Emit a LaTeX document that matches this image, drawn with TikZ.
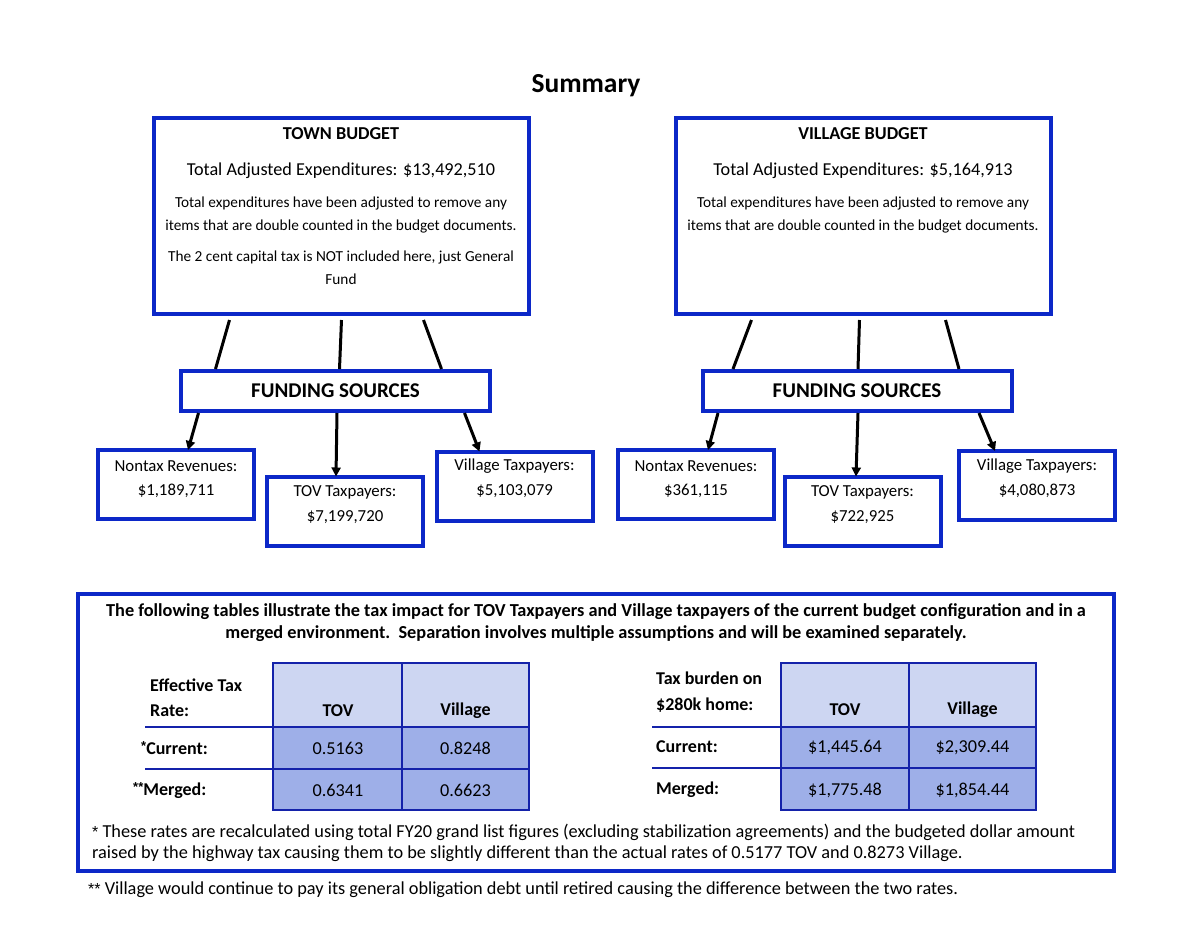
\documentclass[tikz,border=0pt]{standalone}
\usepackage{fontspec}
\setmainfont{Carlito}
\newfontfamily\astfont{Liberation Sans}
\usetikzlibrary{arrows.meta,calc}
\definecolor{boxblue}{RGB}{12,40,200}
\definecolor{gridblue}{RGB}{20,34,170}
\definecolor{hdrfill}{RGB}{205,214,242}
\definecolor{datfill}{RGB}{158,175,232}
\newcommand{\fs}[1]{\fontsize{#1pt}{#1pt}\selectfont}
\newcommand{\supast}[1]{\raisebox{4pt}{\astfont\fs{13}#1}}
\newcommand{\myast}{{\astfont\fs{16}*}}
\tikzset{
  bigbox/.style={draw=boxblue,line width=4pt,minimum width=375pt,minimum height=196pt,inner sep=0pt},
  fundbox/.style={draw=boxblue,line width=4pt,minimum width=309pt,minimum height=40pt,inner sep=0pt,font=\fs{21}\bfseries},
  revbox/.style={draw=boxblue,line width=4pt,minimum width=156pt,minimum height=69pt,inner sep=0pt},
  txt/.style={inner sep=0pt,anchor=center},
  revtxt/.style={txt,font=\fs{16.8}},
  smalltxt/.style={txt,font=\fs{15.3}},
  tlabel/.style={txt,anchor=west,font=\fs{18}\bfseries},
  thead/.style={txt,font=\fs{18}\bfseries},
  tdata/.style={txt,font=\fs{18.2}},
  note/.style={txt,anchor=west,font=\fs{18.3}},
  conn/.style={line width=3pt,black},
  arr/.style={line width=3pt,black,-{Triangle[length=9pt,width=9pt]}},
  grid/.style={draw=gridblue,line width=2pt},
}
\begin{document}
\begin{tikzpicture}[x=1pt,y=-1pt]
\useasboundingbox (0,0) rectangle (1200,927);
\fill[white] (0,0) rectangle (1200,927);

% title
\node[txt,font=\fs{27.5}\bfseries] (title) at (586,86) {Summary};

% ---------- TOWN ----------
\node[bigbox] (townB) at (341.5,216) {};
\node[txt,font=\fs{18.2}\bfseries] (townT) at (341,134) {TOWN BUDGET};
\node[txt,font=\fs{18.2}] (townE) at (341,171) {Total Adjusted Expenditures: \$13,492,510};
\node[smalltxt] (townL1) at (341,203) {Total expenditures have been adjusted to remove any};
\node[smalltxt] (townL2) at (341,226) {items that are double counted in the budget documents.};
\node[smalltxt] (townL3) at (341,257) {The 2 cent capital tax is NOT included here, just General};
\node[smalltxt] (townL4) at (341,279) {Fund};

\node[fundbox] (townF) at (335.5,391) {FUNDING SOURCES};

\draw[conn] ([xshift=-112pt,yshift=-4pt]townB.south) -- ([xshift=-120pt]townF.north);
\draw[conn] ([xshift=0pt,yshift=-4pt]townB.south) -- ([xshift=4pt]townF.north);
\draw[conn] ([xshift=82pt,yshift=-4pt]townB.south) -- ([xshift=106pt]townF.north);

\node[revbox] (townN) at (176,484.5) {};
\node[revtxt] (townN1) at (176,466) {Nontax Revenues:};
\node[revtxt] (townN2) at (176,491) {\$1,189,711};
\node[revbox] (townT2) at (345,511) {};
\node[revtxt] (townT21) at (345,492) {TOV Taxpayers:};
\node[revtxt] (townT22) at (345,517) {\$7,199,720};
\node[revbox] (townV) at (514.5,486) {};
\node[revtxt] (townV1) at (514.5,466) {Village Taxpayers:};
\node[revtxt] (townV2) at (514.5,491) {\$5,103,079};

\draw[arr] ([xshift=-137pt]townF.south) -- ([xshift=12pt,yshift=-2pt]townN.north);
\draw[arr] ([xshift=1.5pt]townF.south) -- ([xshift=-9pt,yshift=-2pt]townT2.north);
\draw[arr] ([xshift=129pt]townF.south) -- ([xshift=-35pt,yshift=-2pt]townV.north);

% ---------- VILLAGE ----------
\node[bigbox] (vilB) at (863.5,216) {};
\node[txt,font=\fs{18.2}\bfseries] (vilT) at (863,134) {VILLAGE BUDGET};
\node[txt,font=\fs{18.2}] (vilE) at (863,171) {Total Adjusted Expenditures: \$5,164,913};
\node[smalltxt] (vilL1) at (863,203) {Total expenditures have been adjusted to remove any};
\node[smalltxt] (vilL2) at (863,226) {items that are double counted in the budget documents.};

\node[fundbox] (vilF) at (857,391) {FUNDING SOURCES};

\draw[conn] ([xshift=-112pt,yshift=-4pt]vilB.south) -- ([xshift=-124pt]vilF.north);
\draw[conn] ([xshift=-4pt,yshift=-4pt]vilB.south) -- ([xshift=1pt]vilF.north);
\draw[conn] ([xshift=82pt,yshift=-4pt]vilB.south) -- ([xshift=102pt]vilF.north);

\node[revbox] (vilN) at (696,484.5) {};
\node[revtxt] (vilN1) at (696,466) {Nontax Revenues:};
\node[revtxt] (vilN2) at (696,491) {\$361,115};
\node[revbox] (vilT2) at (862.5,511) {};
\node[revtxt] (vilT21) at (862.5,492) {TOV Taxpayers:};
\node[revtxt] (vilT22) at (862.5,517) {\$722,925};
\node[revbox] (vilV) at (1037,485.5) {};
\node[revtxt] (vilV1) at (1037,466) {Village Taxpayers:};
\node[revtxt] (vilV2) at (1037,491) {\$4,080,873};

\draw[arr] ([xshift=-139pt]vilF.south) -- ([xshift=12pt,yshift=-2pt]vilN.north);
\draw[arr] ([xshift=1pt]vilF.south) -- ([xshift=-6.5pt,yshift=-2pt]vilT2.north);
\draw[arr] ([xshift=122pt]vilF.south) -- ([xshift=-42pt,yshift=-2pt]vilV.north);

% ---------- BOTTOM PANEL ----------
\node[draw=boxblue,line width=4pt,minimum width=1036pt,minimum height=277pt,inner sep=0pt] (panel) at (596,732.5) {};
\node[txt,font=\fs{18.3}\bfseries] (hd1) at (596,612) {The following tables illustrate the tax impact for TOV Taxpayers and Village taxpayers of the current budget configuration and in a};
\node[txt,font=\fs{18.3}\bfseries] (hd2) at (596,634) {merged environment.\ \ Separation involves multiple assumptions and will be examined separately.};

% left table
\fill[hdrfill] (273,663) rectangle (529,727);
\fill[datfill] (273,727) rectangle (529,810);
\draw[grid] (273,663) rectangle (529,810);
\draw[grid] (402,663) -- (402,810);
\draw[grid] (145,727) -- (529,727);
\draw[grid] (145,769) -- (529,769);
\node[tlabel] (lt1) at (150,685) {Effective Tax};
\node[tlabel] (lt2) at (150,711) {Rate:};
\node[thead] (lth1) at (338,711) {TOV};
\node[thead] (lth2) at (465.5,711) {Village};
\node[tlabel] (lr1) at (141,748) {\supast{*}Current:};
\node[tlabel] (lr2) at (133,791) {\supast{**}Merged:};
\node[tdata] (ld11) at (338,748) {0.5163};
\node[tdata] (ld12) at (465.5,748) {0.8248};
\node[tdata] (ld21) at (338,790) {0.6341};
\node[tdata] (ld22) at (465.5,790) {0.6623};

% right table
\fill[hdrfill] (781,663) rectangle (1036,727);
\fill[datfill] (781,727) rectangle (1036,810);
\draw[grid] (781,663) rectangle (1036,810);
\draw[grid] (909,663) -- (909,810);
\draw[grid] (652,727) -- (1036,727);
\draw[grid] (652,768) -- (1036,768);
\node[tlabel] (rt1) at (656,678) {Tax burden on};
\node[tlabel] (rt2) at (656,705) {\$280k home:};
\node[thead] (rth1) at (845,710) {TOV};
\node[thead] (rth2) at (972.5,710) {Village};
\node[tlabel] (rr1) at (656,747) {Current:};
\node[tlabel] (rr2) at (656,790) {Merged:};
\node[tdata] (rd11) at (845,748) {\$1,445.64};
\node[tdata] (rd12) at (972.5,748) {\$2,309.44};
\node[tdata] (rd21) at (845,790) {\$1,775.48};
\node[tdata] (rd22) at (972.5,790) {\$1,854.44};

% footnotes
\node[note] (fn1) at (92,832) {\myast{} These rates are recalculated using total FY20 grand list figures (excluding stabilization agreements) and the budgeted dollar amount};
\node[note] (fn2) at (92,854) {raised by the highway tax causing them to be slightly different than the actual rates of 0.5177 TOV and 0.8273 Village.};
\node[note] (fn3) at (88,890) {\myast\myast{} Village would continue to pay its general obligation debt until retired causing the difference between the two rates.};
\end{tikzpicture}
\end{document}
